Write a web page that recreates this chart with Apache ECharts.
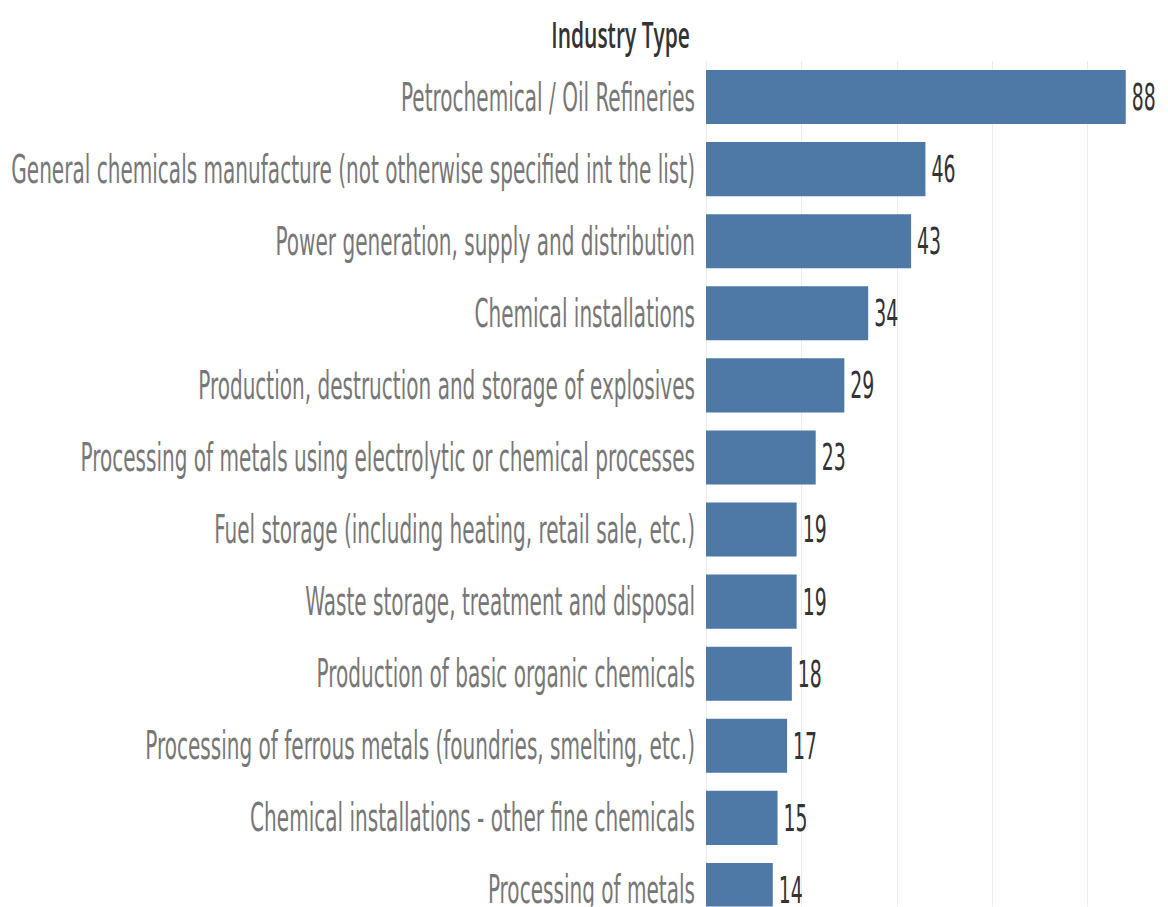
<!DOCTYPE html>
<html>
<head>
<meta charset="utf-8">
<script src="https://cdn.jsdelivr.net/npm/echarts@6/dist/echarts.min.js"></script>
<style>
html,body{margin:0;padding:0;background:#fff;overflow:hidden;}
#wrap{width:1168px;height:907px;overflow:hidden;position:relative;}
#chart{width:1168px;transform-origin:0 0;}
</style>
</head>
<body>
<div id="wrap"><div id="chart"></div></div>
<script>
const categories = [
  "Petrochemical / Oil Refineries",
  "General chemicals manufacture (not otherwise specified int the list)",
  "Power generation, supply and distribution",
  "Chemical installations",
  "Production, destruction and storage of explosives",
  "Processing of metals using electrolytic or chemical processes",
  "Fuel storage (including heating, retail sale, etc.)",
  "Waste storage, treatment and disposal",
  "Production of basic organic chemicals",
  "Processing of ferrous metals (foundries, smelting, etc.)",
  "Chemical installations - other fine chemicals",
  "Processing of metals"
];
const counts = [88, 46, 43, 34, 29, 23, 19, 19, 18, 17, 15, 14];
const headerTitle = "Industry Type";

// The reference image is vertically stretched; reproduce it with a vertical scale of the whole chart.
const S = 1.75;
const el = document.getElementById('chart');
el.style.height = (907 / S) + 'px';
el.style.transform = 'scaleY(' + S + ')';

const FONT = '"DejaVu Sans Condensed", "Liberation Sans Narrow", "Roboto", sans-serif';
const chart = echarts.init(el, null, { renderer: 'svg' });
chart.setOption({
  animation: false,
  backgroundColor: '#fff',
  title: {
    text: headerTitle,
    right: 473,
    top: 4,
    textStyle: { fontFamily: '"Open Sans", sans-serif', fontSize: 21, fontWeight: 600, color: '#333' }
  },
  grid: { left: 706, top: 61 / S, width: 477, height: 865 / S, containLabel: false, outerBoundsMode: 'none' },
  xAxis: {
    type: 'value', min: 0, max: 100, interval: 20,
    axisLabel: { show: false }, axisTick: { show: false }, axisLine: { show: false },
    splitLine: { show: true, lineStyle: { color: '#ececec', width: 1 } }
  },
  yAxis: {
    type: 'category', data: categories, inverse: true,
    axisLine: { show: false }, axisTick: { show: false },
    axisLabel: { fontFamily: FONT, fontSize: 22.3, color: '#777', margin: 11 }
  },
  series: [{
    type: 'bar', data: counts, barCategoryGap: '25%',
    itemStyle: { color: '#4e79a7' },
    label: { show: true, position: 'right', distance: 6, fontFamily: FONT, fontSize: 21, color: '#333' }
  }]
});
</script>
</body>
</html>
